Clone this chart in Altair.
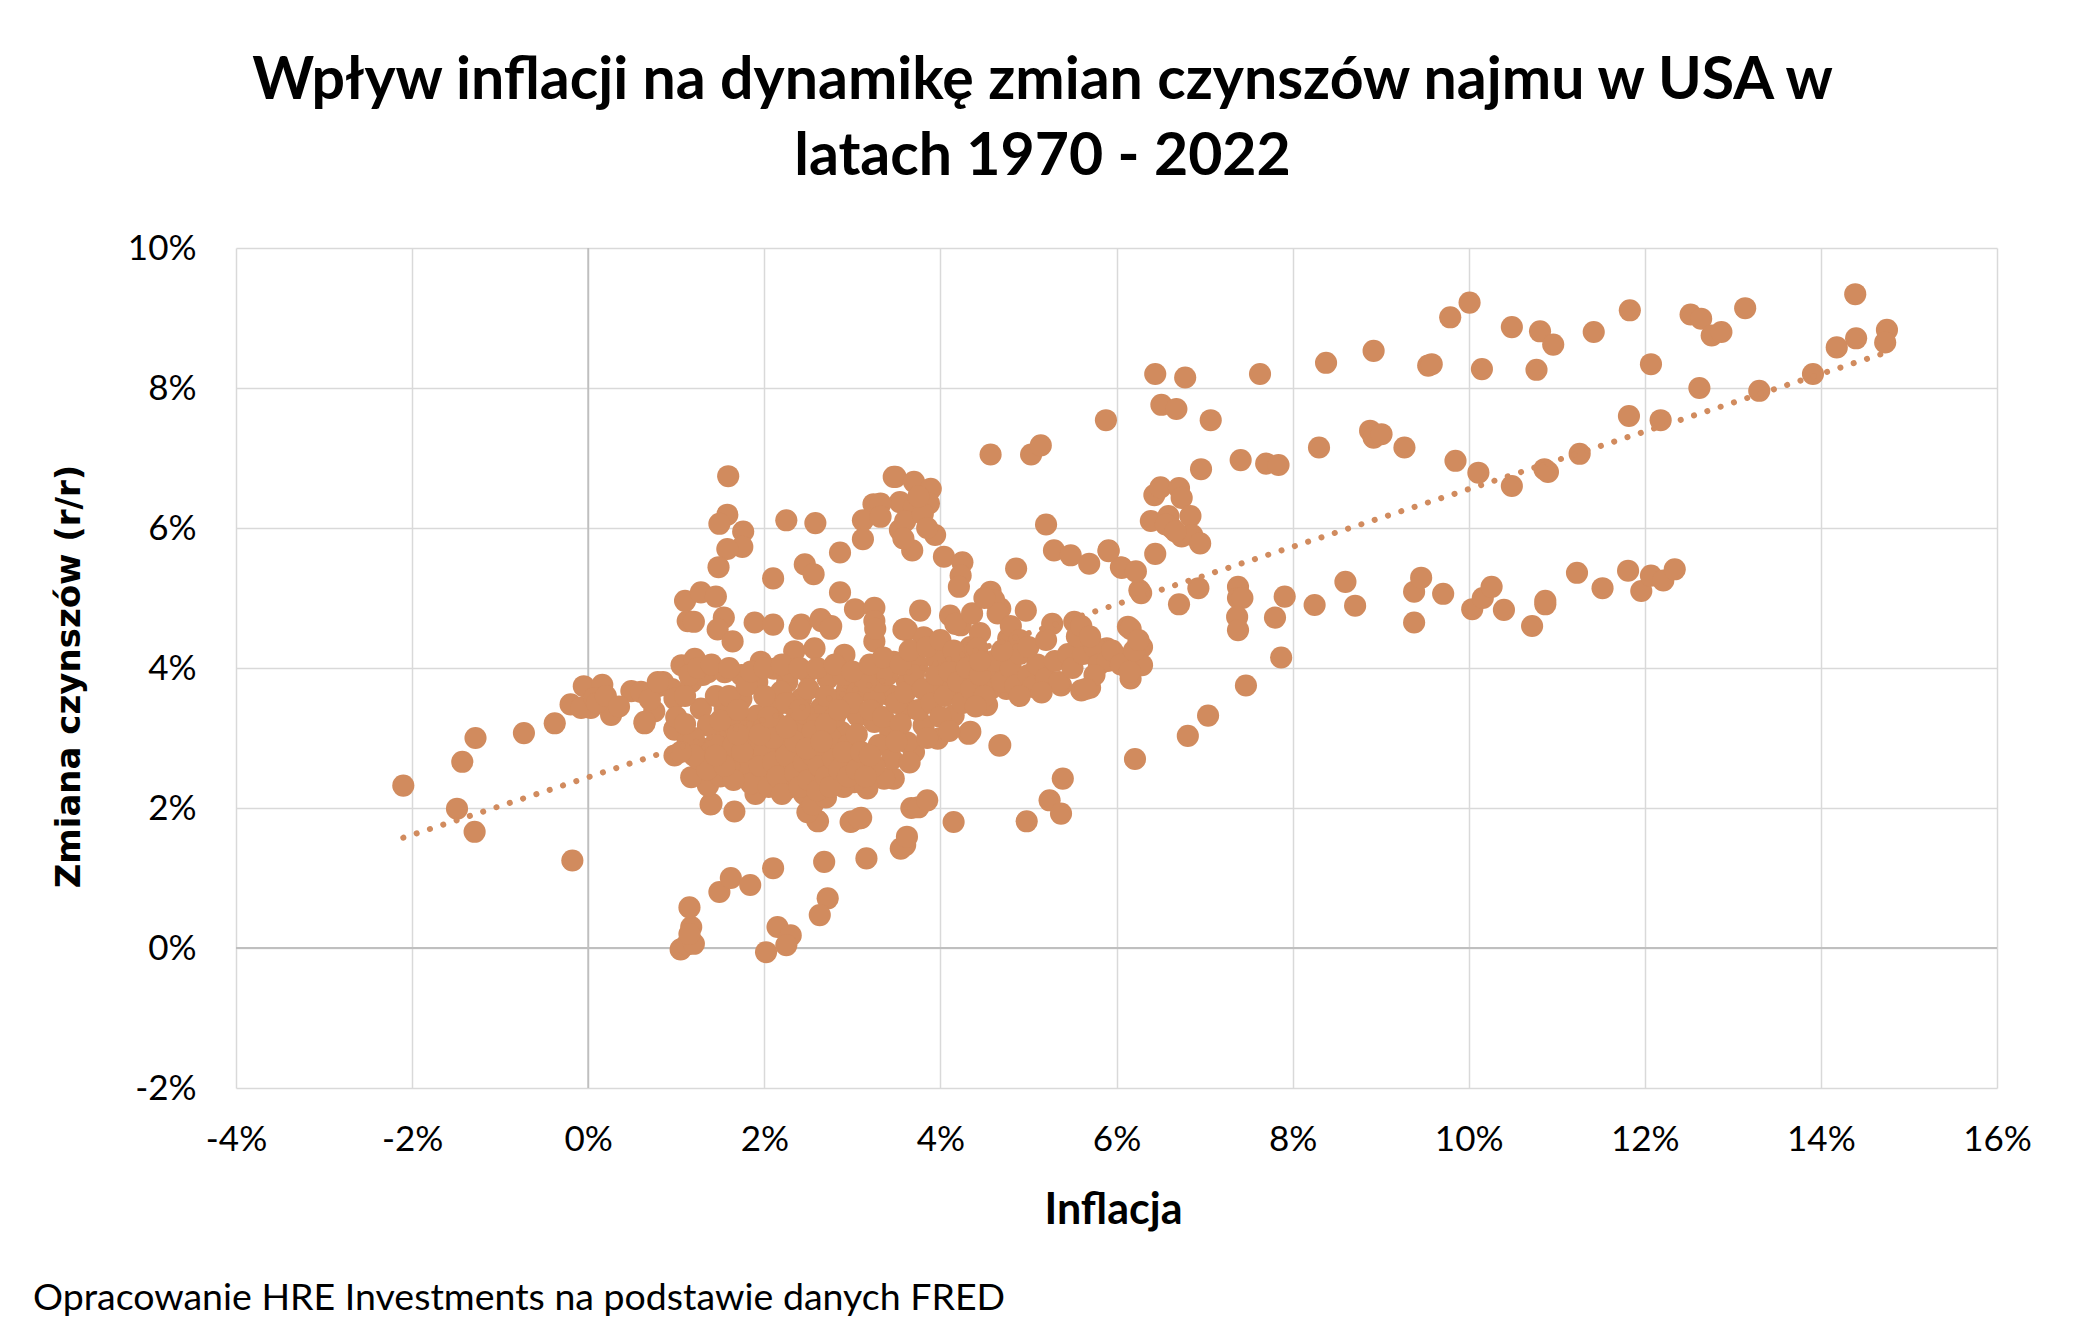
import altair as alt
import pandas as pd

# (inflation %, rent change %) pairs, grouped by region
left_tail = [(-2.10, 2.32), (-1.43, 2.66), (-1.28, 3.00), (-1.49, 1.99), (-1.29, 1.66),
             (-0.73, 3.07), (-0.38, 3.21), (-0.18, 1.25), (-0.20, 3.48), (-0.05, 3.74),
             (0.03, 3.43), (0.16, 3.76), (0.26, 3.33), (0.49, 3.67), (0.64, 3.21),
             (0.75, 3.38), (0.79, 3.74), (0.98, 3.12), (-0.08, 3.43), (0.07, 3.57),
             (0.10, 3.50), (0.20, 3.60), (0.35, 3.45), (0.60, 3.66), (0.70, 3.55),
             (0.85, 3.80), (0.95, 3.70)]

low_points = [(1.05, -0.02), (1.12, 0.05), (1.20, 0.06), (1.17, 0.30), (1.15, 0.20),
              (1.15, 0.58), (2.02, -0.06), (2.15, 0.30), (2.30, 0.18), (2.25, 0.04),
              (2.68, 1.23), (2.72, 0.71), (2.63, 0.47), (3.16, 1.28), (2.99, 1.81),
              (3.10, 1.86), (3.60, 1.47), (3.55, 1.42), (3.62, 1.59), (3.67, 2.00),
              (3.75, 2.01), (3.85, 2.11), (2.61, 1.81), (2.27, 2.29), (1.92, 2.43),
              (1.39, 2.05), (1.66, 1.95), (1.49, 0.80), (1.62, 1.00), (1.84, 0.90),
              (2.10, 1.14), (4.15, 1.80), (5.39, 2.42), (5.24, 2.11), (5.37, 1.92),
              (4.98, 1.81), (6.21, 2.70), (4.67, 2.89), (4.32, 3.06), (3.97, 2.99),
              (6.81, 3.03), (7.04, 3.32), (7.47, 3.75), (7.87, 4.15)]

upper_left = [(1.59, 6.74), (1.58, 6.19), (1.49, 6.06), (1.76, 5.95), (1.75, 5.73),
              (1.58, 5.70), (1.48, 5.44), (2.25, 6.11), (2.58, 6.07), (2.86, 5.65),
              (2.10, 5.28), (2.46, 5.48), (2.56, 5.34), (2.86, 5.08), (3.03, 4.84),
              (3.25, 4.86), (3.24, 6.34), (3.12, 6.11), (3.12, 5.84), (3.49, 6.73),
              (1.10, 4.96), (1.28, 5.08), (1.45, 5.02), (1.13, 4.67), (1.54, 4.72),
              (1.47, 4.55), (1.64, 4.38), (1.89, 4.65), (2.10, 4.62), (2.42, 4.62),
              (2.65, 4.67), (2.76, 4.60), (2.34, 4.24), (2.91, 4.19), (3.25, 4.67),
              (3.25, 4.38), (3.58, 4.55), (1.20, 4.66), (3.26, 4.56), (2.40, 4.56),
              (2.64, 4.70), (2.75, 4.56), (2.57, 4.28), (3.77, 4.82), (3.62, 4.54),
              (3.81, 4.44), (4.11, 4.75), (4.23, 4.61), (4.57, 5.09), (4.68, 4.85),
              (4.38, 4.23), (4.77, 4.42)]

upper_mid = [(3.47, 6.73), (3.70, 6.66), (3.89, 6.56), (3.87, 6.35), (3.54, 6.37),
             (3.70, 6.30), (3.32, 6.35), (3.32, 6.16), (3.54, 5.97), (3.68, 5.68),
             (3.94, 5.90), (4.04, 5.59), (4.25, 5.51), (4.23, 5.32), (4.21, 5.16),
             (3.60, 6.10), (3.80, 6.20), (3.75, 6.45), (3.58, 5.85), (3.85, 6.00),
             (4.57, 7.05), (5.03, 7.05), (5.14, 7.18), (5.20, 6.05), (4.86, 5.42),
             (5.29, 5.68), (5.48, 5.61), (5.69, 5.49), (5.91, 5.68), (6.05, 5.44),
             (6.26, 5.11), (3.60, 4.56), (4.17, 4.63), (4.36, 4.78), (4.61, 4.97),
             (4.65, 4.78), (4.97, 4.82), (5.27, 4.63), (5.52, 4.66), (5.56, 4.44),
             (4.34, 4.30), (6.13, 4.59), (5.60, 3.68), (5.37, 3.75), (4.50, 5.00),
             (4.45, 4.50), (4.80, 4.60), (4.90, 4.40)]

mid_right = [(5.88, 7.54), (6.44, 8.20), (6.78, 8.15), (6.51, 7.76), (6.68, 7.70),
             (7.07, 7.54), (6.96, 6.84), (6.43, 6.47), (6.50, 6.58), (6.71, 6.57),
             (6.74, 6.43), (6.39, 6.10), (6.59, 6.17), (6.84, 6.17), (6.63, 6.00),
             (6.74, 5.88), (6.86, 5.90), (6.95, 5.78), (6.56, 6.05), (6.67, 5.95),
             (6.44, 5.63), (5.91, 5.67), (6.06, 5.43), (6.22, 5.38), (6.28, 5.07),
             (6.71, 4.91), (6.93, 5.14), (6.16, 4.56), (6.29, 4.30), (5.99, 4.18),
             (6.14, 4.09), (6.16, 3.85), (6.29, 4.04), (5.89, 4.28)]

high_infl = [(7.63, 8.20), (8.38, 8.36), (8.92, 8.53), (9.54, 8.32), (9.58, 8.34),
             (8.30, 7.15), (8.88, 7.39), (8.92, 7.29), (9.01, 7.34), (9.27, 7.15),
             (9.85, 6.96), (7.41, 6.97), (7.70, 6.92), (7.84, 6.90), (7.38, 5.16),
             (7.38, 5.00), (7.43, 5.00), (7.37, 4.73), (7.38, 4.54), (7.80, 4.72),
             (7.91, 5.02), (8.25, 4.90), (8.60, 5.23), (8.71, 4.89), (9.38, 5.09),
             (9.46, 5.29), (9.71, 5.06), (9.38, 4.65), (9.79, 9.01)]

very_high = [(10.01, 9.22), (10.15, 8.27), (10.49, 8.87), (10.81, 8.81), (10.96, 8.62),
             (10.77, 8.26), (11.42, 8.80), (11.83, 9.11), (12.07, 8.34), (12.52, 9.05),
             (12.64, 8.99), (12.76, 8.75), (12.87, 8.80), (13.14, 9.14), (12.62, 8.00),
             (11.82, 7.60), (12.18, 7.54), (13.30, 7.96), (13.91, 8.20), (14.18, 8.58),
             (14.39, 9.34), (14.40, 8.71), (14.75, 8.83), (14.73, 8.65), (10.11, 6.79),
             (10.49, 6.60), (10.86, 6.84), (10.90, 6.80), (11.26, 7.06), (10.04, 4.84),
             (10.16, 5.00), (10.26, 5.16), (10.40, 4.83), (10.72, 4.60), (10.87, 4.91),
             (10.87, 4.96), (11.23, 5.36), (11.52, 5.14), (11.81, 5.39), (11.96, 5.10),
             (12.07, 5.32), (12.21, 5.25), (12.34, 5.41)]

core_band = [(0.79, 3.80), (0.64, 3.23), (0.98, 3.13), (1.06, 4.04), (1.21, 4.13),
             (1.36, 3.94), (1.55, 3.94), (1.74, 3.90), (1.96, 4.09), (2.11, 3.99),
             (2.26, 3.80), (2.49, 3.94), (2.72, 3.85), (2.94, 3.70), (3.25, 3.94),
             (3.47, 4.09), (3.74, 4.04), (3.96, 4.13), (4.19, 4.09), (4.42, 4.28),
             (4.64, 3.94), (4.75, 3.70), (4.53, 3.47), (4.15, 3.32), (4.34, 3.09),
             (4.68, 2.90), (3.70, 2.80), (3.47, 2.42), (3.36, 2.42), (3.17, 2.28),
             (3.02, 2.37), (2.98, 1.80), (3.08, 1.85), (2.60, 1.82), (2.49, 1.94),
             (2.26, 2.28), (1.89, 2.47), (1.70, 2.51), (1.40, 2.06), (1.36, 2.32),
             (1.17, 2.44), (0.98, 2.75), (1.13, 2.94), (1.36, 2.85), (1.55, 3.09),
             (1.74, 3.23), (1.92, 3.32), (2.11, 3.42), (2.34, 3.23), (2.57, 3.09),
             (2.72, 2.85), (2.87, 3.09), (3.06, 3.32), (3.25, 3.23), (3.43, 3.09),
             (3.62, 2.94), (3.81, 3.18), (3.62, 3.42), (3.43, 3.61), (2.30, 2.66),
             (2.49, 2.56), (2.68, 2.37), (2.87, 2.47), (2.30, 2.37), (2.11, 2.85),
             (1.85, 2.70), (1.55, 2.75), (1.74, 3.56), (1.55, 3.42), (1.28, 3.42),
             (1.36, 3.18), (1.17, 3.80), (0.98, 3.56), (1.92, 3.80), (2.19, 3.66),
             (2.42, 3.56), (2.64, 3.42), (2.87, 3.56), (3.06, 3.66), (3.25, 3.56),
             (3.32, 3.80), (3.62, 3.80), (3.85, 3.66), (4.00, 3.80), (4.23, 3.66),
             (4.38, 3.80), (4.57, 3.70)]

core_fill = [(1.00, 3.30), (1.10, 3.60), (1.20, 3.00), (1.25, 2.70), (1.30, 3.90),
             (1.45, 3.60), (1.45, 2.90), (1.50, 3.25), (1.60, 3.60), (1.65, 2.90),
             (1.70, 3.40), (1.80, 3.10), (1.80, 3.75), (1.90, 2.95), (2.00, 3.60),
             (2.00, 3.15), (2.05, 2.60), (2.15, 3.20), (2.20, 2.95), (2.25, 3.50),
             (2.30, 3.95), (2.35, 3.10), (2.40, 2.80), (2.45, 3.35), (2.50, 3.70),
             (2.55, 2.90), (2.60, 3.20), (2.65, 2.60), (2.70, 3.60), (2.75, 3.00),
             (2.80, 3.30), (2.85, 2.70), (2.90, 3.90), (2.95, 2.90), (3.00, 3.50),
             (3.05, 3.05), (3.10, 2.60), (3.15, 3.80), (3.20, 3.40), (3.30, 2.90),
             (3.35, 3.30), (3.40, 3.90), (3.45, 2.70), (3.50, 3.50), (3.55, 3.20),
             (3.60, 3.65), (3.70, 3.90), (3.75, 3.40), (3.80, 3.70), (3.90, 3.50),
             (3.95, 3.90), (4.05, 3.60), (4.10, 3.95), (4.20, 3.80), (4.25, 3.50),
             (4.30, 4.00), (4.35, 3.70), (4.45, 3.90), (4.50, 3.60), (4.60, 4.10),
             (4.70, 3.80), (4.80, 4.00), (4.85, 3.75), (4.90, 4.20), (5.00, 3.90),
             (5.05, 3.73), (5.10, 4.05), (5.20, 3.85), (5.30, 4.10), (5.35, 3.80),
             (5.45, 4.20), (5.50, 4.00), (5.62, 4.20), (5.70, 3.72), (5.55, 4.45),
             (5.75, 4.30), (5.80, 4.05), (5.90, 4.10), (5.95, 4.25), (6.05, 4.05),
             (6.15, 3.95), (6.20, 4.25), (6.25, 4.40), (4.90, 3.60), (5.15, 3.65),
             (4.40, 3.45), (4.00, 3.30), (4.10, 3.10), (3.85, 3.00), (3.65, 2.65),
             (3.50, 2.95), (3.25, 2.60), (3.00, 2.75), (2.80, 2.50), (2.60, 2.45),
             (2.45, 2.20), (2.55, 2.05), (2.70, 2.15), (2.90, 2.30), (2.20, 2.55),
             (2.00, 2.80), (1.80, 2.55), (1.60, 2.60), (1.50, 2.45), (1.90, 2.20),
             (1.35, 2.55), (1.20, 2.75), (1.05, 2.80), (1.10, 3.20), (1.15, 3.90),
             (1.25, 4.00), (1.40, 4.05), (1.60, 4.00), (1.85, 3.95), (2.00, 4.00),
             (2.20, 4.05), (2.40, 4.00), (2.60, 4.00), (2.80, 4.05), (3.00, 3.95),
             (3.20, 4.05), (3.35, 4.15), (3.55, 4.05), (3.65, 4.25), (3.85, 4.30),
             (4.00, 4.40), (4.15, 4.25), (4.45, 4.10), (4.70, 4.25), (5.00, 4.30),
             (5.20, 4.40), (5.60, 4.60), (5.70, 4.45), (5.75, 3.90), (5.65, 3.70)]

dense_low = [(1.85, 2.35), (1.95, 2.60), (2.05, 2.30), (2.10, 2.65), (2.15, 2.45),
             (2.20, 2.20), (2.25, 2.75), (2.35, 2.50), (2.40, 2.30), (2.45, 2.65),
             (2.50, 2.40), (2.55, 2.75), (2.60, 2.25), (2.62, 2.60), (2.70, 2.45),
             (2.75, 2.30), (2.78, 2.70), (2.85, 2.55), (2.90, 2.80), (2.95, 2.45),
             (3.05, 2.55), (3.10, 2.80), (3.15, 2.45), (3.20, 2.75), (1.75, 2.80),
             (1.65, 2.40), (1.55, 2.60), (1.45, 2.75), (2.10, 3.00), (2.35, 2.95),
             (2.55, 3.10), (2.70, 3.20), (1.95, 3.05), (2.25, 3.15), (2.48, 2.85),
             (2.65, 2.95), (2.05, 3.30), (2.40, 3.40), (2.85, 3.40), (1.70, 3.05)]

groups = [left_tail, low_points, upper_left, upper_mid, mid_right,
          high_infl, very_high, core_band, core_fill, dense_low]
pairs = [p for g in groups for p in g]
df = pd.DataFrame(pairs, columns=["inflacja", "czynsze"])

x_ticks = [-4, -2, 0, 2, 4, 6, 8, 10, 12, 14, 16]
y_ticks = [-2, 0, 2, 4, 6, 8, 10]
zero_line = pd.DataFrame({"z": [0]})
footer = pd.DataFrame({"t": ["Opracowanie HRE Investments na podstawie danych FRED"]})

POINT = "#D18B5E"
GRID = "#D9D9D9"
ZERO = "#BFBFBF"
FONT = "Lato"

x_enc = alt.X(
    "inflacja:Q",
    scale=alt.Scale(domain=[-4, 16], nice=False, zero=False),
    axis=alt.Axis(
        values=x_ticks, labelExpr="datum.value + '%'", title="Inflacja",
        grid=True, gridColor=GRID, gridWidth=1.5, domain=False, ticks=False,
        labelFont=FONT, labelFontSize=35, labelColor="#000000", labelPadding=34,
        labelFlush=False, labelOverlap=False,
        titleFont=FONT, titleFontSize=43, titleFontWeight="bold", titleColor="#000000",
        titleX=877, titleY=122, titleBaseline="middle", titleAlign="center",
    ),
)
y_enc = alt.Y(
    "czynsze:Q",
    scale=alt.Scale(domain=[-2, 10], nice=False, zero=False),
    axis=alt.Axis(
        values=y_ticks, labelExpr="datum.value + '%'", title="Zmiana czynszów (r/r)",
        grid=True, gridColor=GRID, gridWidth=1.5, domain=False, ticks=False,
        labelFont=FONT, labelFontSize=35, labelColor="#000000", labelPadding=40,
        labelFlush=False, labelOverlap=False, labelBaseline="middle",
        titleFont="DejaVu Sans", titleFontSize=34, titleFontWeight="bold",
        titleColor="#000000", titleAngle=270, titleX=-167, titleY=428,
        titleBaseline="middle", titleAlign="center",
    ),
)

zx = alt.Chart(zero_line).mark_rule(color=ZERO, strokeWidth=1.8).encode(x=alt.datum(0))
zy = alt.Chart(zero_line).mark_rule(color=ZERO, strokeWidth=1.8).encode(y=alt.datum(0))

points = alt.Chart(df).mark_circle(size=490, opacity=1, color=POINT).encode(x=x_enc, y=y_enc)

trend = (
    alt.Chart(df)
    .transform_regression("inflacja", "czynsze")
    .mark_line(color=POINT, strokeWidth=6, strokeDash=[0.1, 13.9], strokeCap="round")
    .encode(x=x_enc, y=y_enc)
)

note = alt.Chart(footer).mark_text(
    font=FONT, fontSize=37.5, align="left", baseline="middle", color="#000000"
).encode(text="t:N", x=alt.value(-203), y=alt.value(1051))

chart = (
    alt.layer(zx, zy, points, trend, note)
    .properties(
        width=1761,
        height=840,
        title=alt.TitleParams(
            text=["Wpływ inflacji na dynamikę zmian czynszów najmu w USA w",
                  "latach 1970 - 2022"],
            font=FONT, fontSize=59, fontWeight="bold", color="#000000",
            anchor="middle", frame="group", dx=-74, offset=44, lineHeight=76,
        ),
        autosize=alt.AutoSizeParams(type="none"),
        padding={"left": 228, "top": 240, "right": 74, "bottom": 239},
        background="white",
    )
    .configure_view(stroke=None)
)

chart.save("out.html", embed_options={"renderer": "svg", "actions": False})
